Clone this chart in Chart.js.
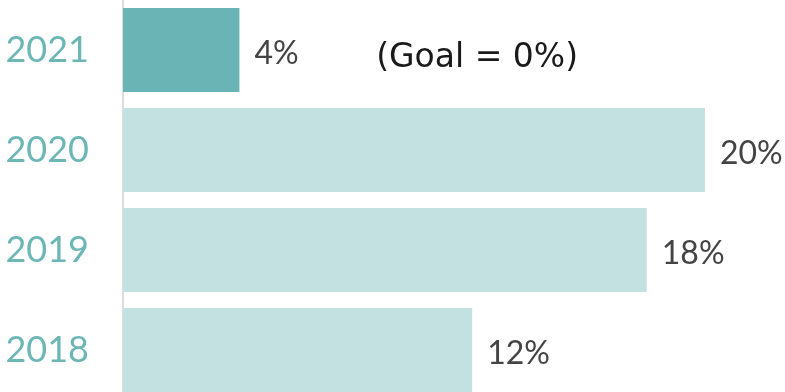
<!DOCTYPE html>
<html>
<head>
<meta charset="utf-8">
<script src="https://cdn.jsdelivr.net/npm/chart.js@4/dist/chart.umd.min.js"></script>
<style>
  html, body { margin: 0; padding: 0; background: #fff; }
  #wrap { width: 785px; height: 392px; overflow: hidden; }
</style>
</head>
<body>
<div id="wrap">
  <canvas id="chart" width="785" height="400"></canvas>
</div>
<script>
const years = ["2021", "2020", "2019", "2018"];
const values = [4, 20, 18, 12];
const barColors = ["#6bb4b5", "#c4e1e1", "#c4e1e1", "#c4e1e1"];
const goalText = "(Goal = 0%)";
const goalAt = 8.7; // where the note sits along the value axis

// draws "4%" etc. after each bar, plus the goal note
const valueLabels = {
  id: "valueLabels",
  afterDatasetsDraw(chart) {
    const ctx = chart.ctx;
    const meta = chart.getDatasetMeta(0);
    ctx.save();
    ctx.font = "32px Lato";
    ctx.fillStyle = "#444";
    ctx.textBaseline = "alphabetic";
    ctx.textAlign = "left";
    meta.data.forEach((bar, i) => {
      ctx.fillText(values[i] + "%", bar.x + 15, bar.y + 14);
    });
    ctx.font = "33px 'DejaVu Sans'";
    ctx.fillStyle = "#1a1a1a";
    const x = chart.scales.x.getPixelForValue(goalAt);
    ctx.fillText(goalText, x, meta.data[0].y + 17);
    ctx.restore();
  },
};

new Chart(document.getElementById("chart").getContext("2d"), {
  type: "bar",
  data: {
    labels: years,
    datasets: [
      {
        data: values,
        backgroundColor: barColors,
        categoryPercentage: 1,
        barPercentage: 0.84,
      },
    ],
  },
  options: {
    indexAxis: "y",
    responsive: false,
    animation: false,
    layout: { padding: 0 },
    plugins: {
      legend: { display: false },
      tooltip: { enabled: false },
    },
    scales: {
      x: {
        display: false,
        min: 0,
        max: 22.75,
      },
      y: {
        grid: { display: false, drawTicks: false },
        border: { display: true, color: "#dddddd", width: 2 },
        ticks: {
          color: "#6cb6b5",
          font: { family: "Lato", size: 36 },
          padding: 34,
        },
        afterFit(scale) {
          scale.width = 123;
          scale.paddingTop = 0;
          scale.paddingBottom = 0;
        },
      },
    },
  },
  plugins: [valueLabels],
});
</script>
</body>
</html>
